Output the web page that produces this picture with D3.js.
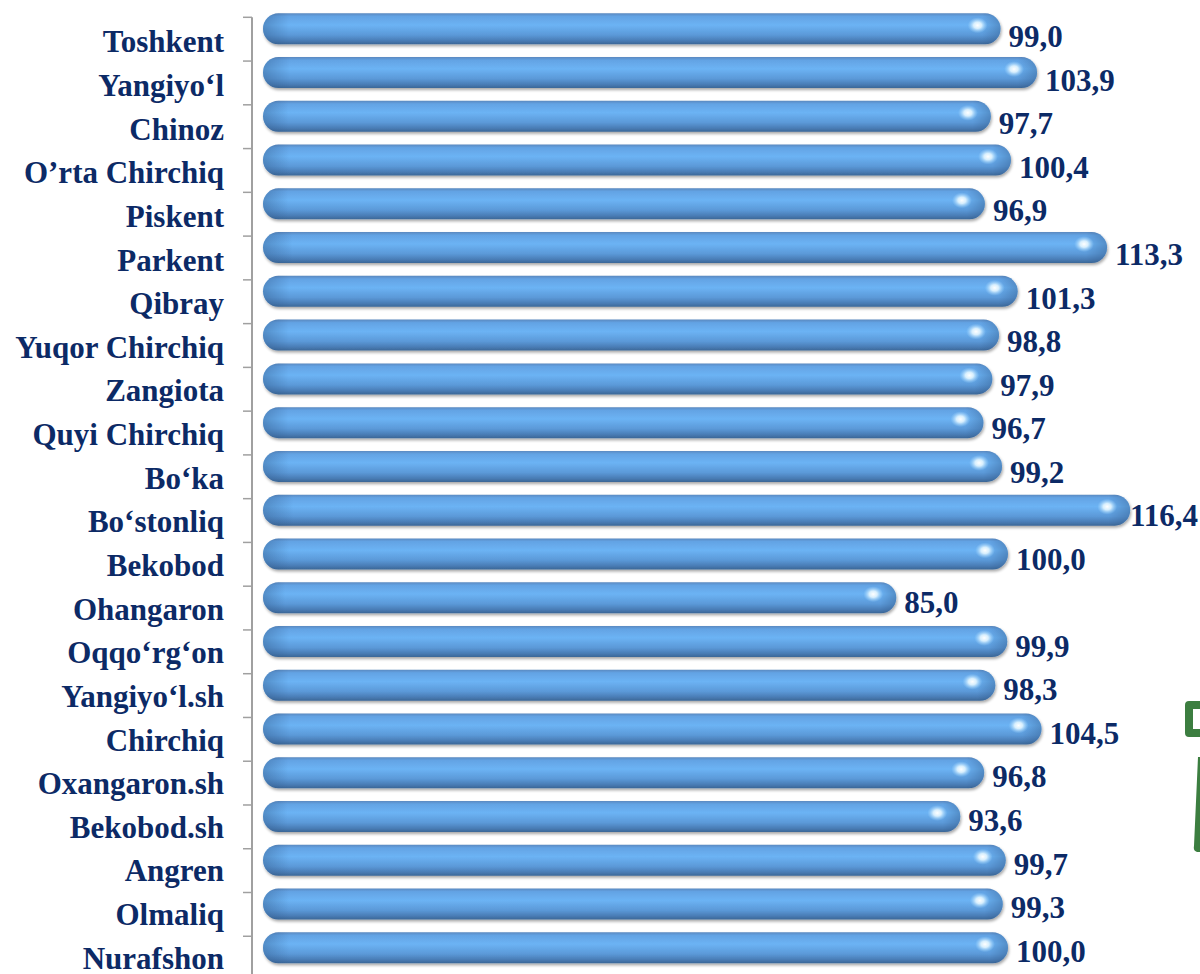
<!DOCTYPE html>
<html>
<head>
<meta charset="utf-8">
<script src="https://cdn.jsdelivr.net/npm/d3@7"></script>
<style>
  body { margin: 0; background: #fff; }
  svg { display: block; }
</style>
</head>
<body>
<div id="chart"></div>
<script>
const categories = ["Toshkent", "Yangiyo‘l", "Chinoz", "O’rta Chirchiq", "Piskent", "Parkent", "Qibray",
  "Yuqor Chirchiq", "Zangiota", "Quyi Chirchiq", "Bo‘ka", "Bo‘stonliq", "Bekobod", "Ohangaron",
  "Oqqo‘rg‘on", "Yangiyo‘l.sh", "Chirchiq", "Oxangaron.sh", "Bekobod.sh", "Angren", "Olmaliq", "Nurafshon"];
const values = [99.0, 103.9, 97.7, 100.4, 96.9, 113.3, 101.3, 98.8, 97.9, 96.7, 99.2, 116.4,
  100.0, 85.0, 99.9, 98.3, 104.5, 96.8, 93.6, 99.7, 99.3, 100.0];

const width = 1200, height = 974;
const navy = "#0c2a66";
const fontFam = "'Liberation Serif', 'Times New Roman', serif";

const data = categories.map((c, i) => ({ name: c, value: values[i] }));

const svg = d3.select("#chart").append("svg")
  .attr("width", width)
  .attr("height", height);

const defs = svg.append("defs");

const grad = defs.append("linearGradient")
  .attr("id", "barGrad")
  .attr("x1", 0).attr("y1", 0).attr("x2", 0).attr("y2", 1);
[[0, "#5a89c0"], [0.1, "#63a3e4"], [0.38, "#6cb3f4"], [0.7, "#5b99d8"], [0.88, "#4a7db6"], [1, "#3b6797"]]
  .forEach(([o, c]) => grad.append("stop").attr("offset", o).attr("stop-color", c));

const shade = defs.append("linearGradient")
  .attr("id", "endShade")
  .attr("x1", 0).attr("y1", 0).attr("x2", 1).attr("y2", 0);
[[0, 0.4], [0.035, 0.0], [0.975, 0.0], [1, 0.4]]
  .forEach(([o, a]) => shade.append("stop").attr("offset", o).attr("stop-color", "#2d5585").attr("stop-opacity", a));

const glow = defs.append("radialGradient").attr("id", "glow");
glow.append("stop").attr("offset", 0).attr("stop-color", "#ffffff").attr("stop-opacity", 1);
glow.append("stop").attr("offset", 0.4).attr("stop-color", "#e4f6ff").attr("stop-opacity", 0.9);
glow.append("stop").attr("offset", 1).attr("stop-color", "#9fd6ff").attr("stop-opacity", 0);

const shadow = defs.append("filter").attr("id", "shadow")
  .attr("x", "-5%").attr("y", "-30%").attr("width", "110%").attr("height", "180%");
shadow.append("feGaussianBlur").attr("in", "SourceAlpha").attr("stdDeviation", 1.5);
shadow.append("feOffset").attr("dx", 1).attr("dy", 2).attr("result", "blur");
shadow.append("feComponentTransfer").append("feFuncA").attr("type", "linear").attr("slope", 0.35);
const merge = shadow.append("feMerge");
merge.append("feMergeNode");
merge.append("feMergeNode").attr("in", "SourceGraphic");

const y = d3.scaleBand()
  .domain(categories)
  .range([17.3, 17.3 + categories.length * 43.76])
  .padding(0);

const x = d3.scaleLinear()
  .domain([0, 120])
  .range([263, 1157]);

const barH = 31;

// axis line with ticks on band boundaries
const axis = svg.append("g");
axis.append("line")
  .attr("x1", 252).attr("x2", 252)
  .attr("y1", y.range()[0]).attr("y2", height)
  .attr("stroke", "#a0a0a0").attr("stroke-width", 2);
axis.selectAll(".tick")
  .data(categories)
  .join("line")
  .attr("class", "tick")
  .attr("x1", 243).attr("x2", 252)
  .attr("y1", d => y(d)).attr("y2", d => y(d))
  .attr("stroke", "#a0a0a0").attr("stroke-width", 1.5);

// category labels
svg.selectAll(".cat")
  .data(data)
  .join("text")
  .attr("class", "cat")
  .attr("x", 224)
  .attr("y", (d, i) => y(d.name) + 35 - i * 0.12)
  .attr("text-anchor", "end")
  .style("font-family", fontFam)
  .style("font-weight", "bold")
  .style("font-size", "31px")
  .style("fill", navy)
  .text(d => d.name);

// bars
const bars = svg.selectAll(".bar")
  .data(data)
  .join("g")
  .attr("class", "bar")
  .attr("transform", d => `translate(0,${y(d.name) - 4})`);

bars.append("rect")
  .attr("x", x(0))
  .attr("width", d => x(d.value) - x(0))
  .attr("height", barH)
  .attr("rx", barH / 2)
  .attr("fill", "url(#barGrad)")
  .attr("filter", "url(#shadow)");

bars.append("rect")
  .attr("x", x(0))
  .attr("width", d => x(d.value) - x(0))
  .attr("height", barH)
  .attr("rx", barH / 2)
  .attr("fill", "url(#endShade)");

bars.append("ellipse")
  .attr("cx", d => x(d.value) - 23)
  .attr("cy", 12)
  .attr("rx", 10)
  .attr("ry", 8)
  .attr("fill", "url(#glow)");

// value labels
const fmt = d3.format(".1f");
svg.selectAll(".val")
  .data(data)
  .join("text")
  .attr("class", "val")
  .attr("y", (d, i) => y(d.name) + 30 - i * 0.22)
  .style("font-family", fontFam)
  .style("font-weight", "bold")
  .style("font-size", "31px")
  .style("fill", navy)
  .text(d => fmt(d.value).replace(".", ","))
  .attr("x", function(d) {
    const w = this.getComputedTextLength();
    return Math.min(x(d.value) + 8, width - 2 - w);
  });

// clipped green decoration at the right edge
svg.append("path")
  .attr("d", "M1189,705 H1200 M1189,705 V733 H1200")
  .attr("fill", "none")
  .attr("stroke", "#3c7e40")
  .attr("stroke-width", 8)
  .attr("stroke-linejoin", "round")
  .attr("stroke-linecap", "round");
svg.append("path")
  .attr("d", "M1198,757 L1200,757 L1200,852 L1197,852 Q1193,851 1194,846 Z")
  .attr("fill", "#3c7e40");
</script>
</body>
</html>
